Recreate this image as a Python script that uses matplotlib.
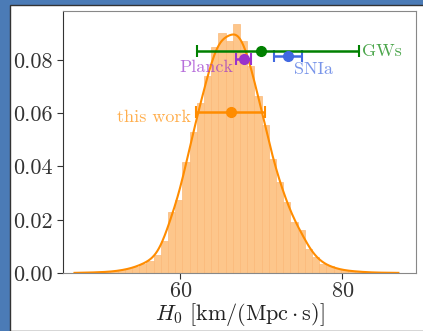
import numpy as np
import matplotlib
matplotlib.use("Agg")
import matplotlib.pyplot as plt
from matplotlib.ticker import FormatStrFormatter, MultipleLocator
from matplotlib.patches import Rectangle

plt.rcParams['font.family'] = 'serif'
plt.rcParams['font.serif'] = ['cmr10']
plt.rcParams['mathtext.fontset'] = 'cm'
plt.rcParams['axes.formatter.use_mathtext'] = True

# Histogram (density) of H0 posterior
bin_start = 46.92
bin_width = 0.889
hist_heights = [0.0001, 0.0001, 0.0002, 0.0003, 0.0004, 0.0006, 0.0010, 0.0015, 0.0022, 0.0035,
                0.0045, 0.0066, 0.0120, 0.0229, 0.0273, 0.0416, 0.0529, 0.0639, 0.0741, 0.0848,
                0.0901, 0.0873, 0.0935, 0.0873, 0.0779, 0.0666, 0.0554, 0.0429, 0.0341, 0.0266,
                0.0191, 0.0160, 0.0091, 0.0060, 0.0035, 0.0025, 0.0015, 0.0010, 0.0007, 0.0005,
                0.0003, 0.0002, 0.0001, 0.0001, 0.0001]

# Measurements: name, central value, lower err, upper err, y position
meas_names = ['this work', 'Planck', 'SNIa', 'GWs']
meas_values = [66.2, 67.8, 73.24, 70.0]
meas_err_lo = [4.3, 0.9, 1.74, 8.0]
meas_err_hi = [4.2, 0.9, 1.74, 12.0]
meas_ypos = [0.0603, 0.0804, 0.0816, 0.0834]
meas_colors = ['darkorange', 'darkorchid', 'royalblue', 'green']
label_x = [61.3, 66.6, 74.0, 82.4]
label_y = [0.0585, 0.0774, 0.0764, 0.0834]
label_ha = ['right', 'right', 'left', 'left']

fig = plt.figure(figsize=(4.23, 3.31), dpi=100)
fig.patch.set_facecolor('#4b7bb6')
fig.patches.append(Rectangle((9.5 / 423, 0), 1, 1 - 4.5 / 331, transform=fig.transFigure,
                             facecolor='white', edgecolor='#333333', linewidth=1.0, zorder=-1))

ax = fig.add_axes([63 / 423, 1 - 273 / 331, (416 - 63) / 423, (273 - 11) / 331])

n = len(hist_heights)
edges = bin_start + bin_width * np.arange(n + 1)
centers = 0.5 * (edges[:-1] + edges[1:])
heights = np.array(hist_heights)
ax.bar(edges[:-1], heights, width=bin_width, align='edge', color='#fdc68b',
       edgecolor='#fbb979', linewidth=0.5, zorder=1)

# smooth density curve derived from the histogram
xs = np.linspace(edges[0], edges[-1], 400)
bw = 0.9
kern = np.exp(-0.5 * ((xs[:, None] - centers[None, :]) / bw) ** 2) / (bw * np.sqrt(2 * np.pi))
curve = (kern * heights[None, :] * bin_width).sum(axis=1)
ax.plot(xs, curve, color='darkorange', linewidth=1.5, zorder=2)

for name, v, lo, hi, yv, c, lx, ly, ha in zip(meas_names, meas_values, meas_err_lo, meas_err_hi,
                                               meas_ypos, meas_colors, label_x, label_y, label_ha):
    ax.errorbar([v], [yv], xerr=[[lo], [hi]], fmt='o', color=c, markersize=7,
                elinewidth=1.8, capsize=4, capthick=1.5, zorder=3)
    ax.text(lx, ly, name, color=c, alpha=0.7, fontsize=13, ha=ha, va='center')

ax.set_xlim(45.5, 89.1)
ax.set_ylim(0, 0.0984)
ax.xaxis.set_major_locator(MultipleLocator(20))
ax.yaxis.set_major_locator(MultipleLocator(0.02))
ax.yaxis.set_major_formatter(FormatStrFormatter('%.2f'))
ax.tick_params(labelsize=16, colors='#333333', length=4)
ax.tick_params(axis='x', pad=2)
ax.set_xlabel(r'$H_0\ [\mathrm{km/(Mpc\cdot s)}]$', fontsize=16, color='#222222', labelpad=0)
for s in ['top', 'right', 'bottom']:
    ax.spines[s].set_color('#888888')
ax.spines['left'].set_color('#333333')

fig.savefig('out.png', dpi=100, facecolor=fig.get_facecolor())
